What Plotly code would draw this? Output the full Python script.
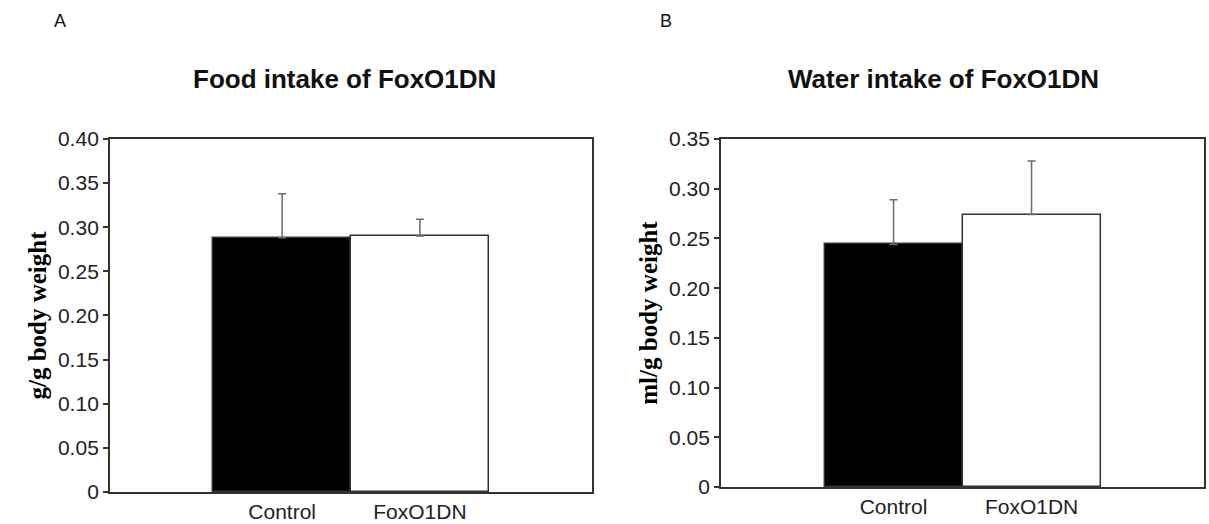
import plotly.graph_objects as go

# Groups and measured intake (mean with upper SE bar)
groups = ["Control", "FoxO1DN"]
food_mean = [0.288, 0.290]
food_err = [0.050, 0.019]
water_mean = [0.244, 0.274]
water_err = [0.045, 0.054]

food_ticks = [0, 0.05, 0.10, 0.15, 0.20, 0.25, 0.30, 0.35, 0.40]
food_ticktext = ["0", "0.05", "0.10", "0.15", "0.20", "0.25", "0.30", "0.35", "0.40"]
water_ticks = [0, 0.05, 0.10, 0.15, 0.20, 0.25, 0.30, 0.35]
water_ticktext = ["0", "0.05", "0.10", "0.15", "0.20", "0.25", "0.30", "0.35"]

bar_colors = ["#000000", "#ffffff"]
frame = "#333333"
sans = "Liberation Sans, Arial, sans-serif"
serif = "Liberation Serif, Times New Roman, serif"
xrange_ = [-1.25, 2.25]

fig = go.Figure()


def add_bars(xa, ya, means, errs):
    for g, m, e, c in zip(groups, means, errs, bar_colors):
        fig.add_trace(go.Bar(
            x=[g], y=[m], xaxis=xa, yaxis=ya, width=1.0,
            marker=dict(color=c, line=dict(color=frame, width=1.5)),
            error_y=dict(type="data", array=[e], symmetric=False, arrayminus=[0],
                         color="#6a6a6a", thickness=1.5, width=4),
            showlegend=False, hoverinfo="skip",
        ))


add_bars("x", "y", food_mean, food_err)
add_bars("x2", "y2", water_mean, water_err)

axis_line = dict(showline=True, linecolor=frame, linewidth=2, mirror=True,
                 showgrid=False, zeroline=False, automargin=False)

cat_axis = dict(type="category", categoryorder="array", categoryarray=groups,
                range=xrange_, ticks="", tickfont=dict(family=sans, size=21, color="#222"),
                **axis_line)

# Bare axes that only carry the end tick marks of each category axis
end_ticks = dict(type="linear", range=xrange_, tickvals=xrange_, ticks="outside",
                 ticklen=5, tickcolor="#555", tickwidth=1.5, showticklabels=False,
                 showline=False, showgrid=False, zeroline=False, automargin=False)


def val_axis(rng, tv, tt, title, dom, anchor):
    return dict(range=rng, tickvals=tv, ticktext=tt, ticks="outside", ticklen=5,
                tickcolor=frame, tickwidth=1.5, domain=dom, anchor=anchor,
                tickfont=dict(family=sans, size=21, color="#222"),
                title=dict(text=title, font=dict(family=serif, size=25, color="#000"),
                           standoff=4),
                **axis_line)


def label(text, x, y, size, bold=False):
    return dict(text=f"<b>{text}</b>" if bold else text, x=x / 1209, y=1 - y / 524,
                xref="paper", yref="paper", xanchor="center", yanchor="middle",
                showarrow=False, font=dict(family=sans, size=size, color="#111"))


fig.update_layout(
    width=1209, height=524,
    margin=dict(l=0, r=0, t=0, b=0),
    paper_bgcolor="white", plot_bgcolor="white",
    bargap=0,
    xaxis=dict(domain=[0.091, 0.4897], anchor="y", **cat_axis),
    xaxis2=dict(domain=[0.5964, 0.9959], anchor="y2", **cat_axis),
    xaxis3=dict(overlaying="x", anchor="y", **end_ticks),
    xaxis4=dict(overlaying="x2", anchor="y2", **end_ticks),
    yaxis=val_axis([0, 0.40], food_ticks, food_ticktext, "<b>g/g body weight</b>",
                   [0.0611, 0.7347], "x"),
    yaxis2=val_axis([0, 0.35], water_ticks, water_ticktext,
                    "<b>ml/g body weight</b>", [0.0706, 0.7347], "x2"),
    annotations=[
        label("A", 60, 21, 18),
        label("B", 666, 21, 18),
        label("Food intake of FoxO1DN", 344, 79, 26, bold=True),
        label("Water intake of FoxO1DN", 943, 79, 26, bold=True),
    ],
)

fig.write_html("out.html")
